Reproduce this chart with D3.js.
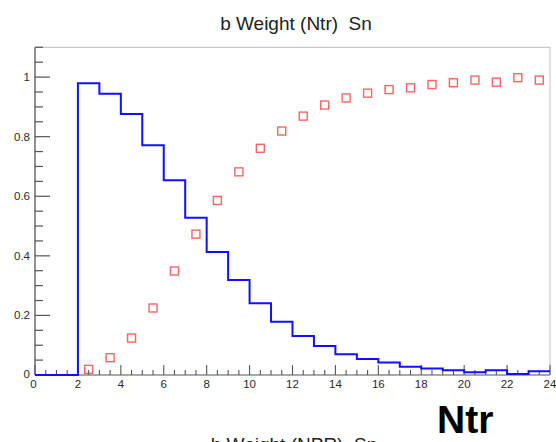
<!DOCTYPE html>
<html>
<head>
<meta charset="utf-8">
<script src="https://cdn.jsdelivr.net/npm/d3@7"></script>
<style>
  html, body { margin: 0; padding: 0; background: #fff; }
  svg { display: block; font-family: "Liberation Sans", Arial, sans-serif; }
  .title { white-space: pre; }
</style>
</head>
<body>
<svg id="chart" width="556" height="442"></svg>
<script>
// Histogram bin edges (unit-wide bins from 0 to 24)
const binEdges = d3.range(0, 25);
// Blue histogram: content of each bin [i, i+1)
const weightNtr = [0, 0, 0.979, 0.944, 0.876, 0.771, 0.654, 0.528, 0.413, 0.319,
                   0.241, 0.179, 0.131, 0.097, 0.070, 0.054, 0.042, 0.028, 0.022,
                   0.016, 0.009, 0.016, 0.003, 0.013];
// Red markers: bin centres and values
const markerX = d3.range(2.5, 24, 1);
const weightMarkers = [0.019, 0.058, 0.124, 0.225, 0.349, 0.473, 0.586, 0.682, 0.761,
                       0.819, 0.869, 0.906, 0.930, 0.946, 0.958, 0.964, 0.975, 0.981,
                       0.990, 0.983, 0.998, 0.990];
// Axis tick labels
const xTickValues = [0, 2, 4, 6, 8, 10, 12, 14, 16, 18, 20, 22, 24];
const yTickValues = [0, 0.2, 0.4, 0.6, 0.8, 1];
const yTickLabels = ["0", "0.2", "0.4", "0.6", "0.8", "1"];

const titleText = "b Weight (Ntr)  Sn";
const lowerTitleText = "b Weight (NPR)  Sn";
const axisName = "Ntr";

const svg = d3.select("#chart");
const frame = { left: 35, right: 550, top: 47.3, bottom: 375 };

const x = d3.scaleLinear().domain([0, 24]).range([frame.left, frame.right]);
const y = d3.scaleLinear().domain([0, 1.1]).range([frame.bottom, frame.top]);

// Frame (light top/right edges)
svg.append("path")
  .attr("d", `M${frame.left},${frame.top}H${frame.right}V${frame.bottom}`)
  .attr("fill", "none").attr("stroke", "#c8c8c8").attr("stroke-width", 1.2);

// Y axis: major ticks every 0.2, minor every 0.05, drawn inward
const yAxis = svg.append("g");
yAxis.append("line").attr("x1", frame.left).attr("x2", frame.left)
  .attr("y1", y(0)).attr("y2", frame.top).attr("stroke", "#555").attr("stroke-width", 1.3);
const yMinor = d3.range(0, 1.1001, 0.05);
yAxis.selectAll("line.minor").data(yMinor).join("line")
  .attr("class", "minor")
  .attr("x1", frame.left)
  .attr("x2", d => (Math.abs(d * 5 - Math.round(d * 5)) < 1e-6) ? frame.left + 15 : frame.left + 8)
  .attr("y1", d => y(d)).attr("y2", d => y(d))
  .attr("stroke", "#555").attr("stroke-width", 1.2);
yAxis.selectAll("text").data(yTickValues).join("text")
  .attr("x", frame.left - 5).attr("y", d => y(d))
  .attr("dy", "0.35em").attr("text-anchor", "end")
  .attr("font-size", 11.5).attr("fill", "#2a2a2a")
  .attr("transform", d => d === 0 ? "translate(0,-1)" : null)
  .text((d, i) => yTickLabels[i]);

// X axis: major ticks every 2, minor every 0.5, drawn upward
const xAxis = svg.append("g");
xAxis.append("line").attr("x1", frame.left).attr("x2", frame.right)
  .attr("y1", frame.bottom).attr("y2", frame.bottom).attr("stroke", "#555").attr("stroke-width", 1.2);
const xMinor = d3.range(0, 24.001, 0.5);
xAxis.selectAll("line.tick").data(xMinor).join("line")
  .attr("class", "tick")
  .attr("x1", d => x(d)).attr("x2", d => x(d))
  .attr("y1", frame.bottom).attr("y2", d => (d % 2 === 0) ? frame.bottom - 10 : frame.bottom - 5)
  .attr("stroke", "#555").attr("stroke-width", 1.1);
xAxis.selectAll("text").data(xTickValues).join("text")
  .attr("x", d => x(d) - (d === 0 ? 1.5 : 0)).attr("y", frame.bottom + 12.5)
  .attr("text-anchor", "middle")
  .attr("font-size", 11.5).attr("fill", "#2a2a2a")
  .text(d => d);

// Blue histogram outline
const histPts = binEdges.slice(0, -1).map((e, i) => [e, weightNtr[i]]);
histPts.push([24, weightNtr[weightNtr.length - 1]]);
const step = d3.line().x(d => x(d[0])).y(d => y(d[1])).curve(d3.curveStepAfter);
svg.append("path")
  .attr("d", step(histPts))
  .attr("fill", "none").attr("stroke", "#1010ff").attr("stroke-width", 2);

// Red open-square markers
const ms = 8;
svg.append("g").selectAll("rect").data(markerX).join("rect")
  .attr("x", (d) => x(d) - ms / 2)
  .attr("y", (d, i) => y(weightMarkers[i]) - ms / 2)
  .attr("width", ms).attr("height", ms)
  .attr("fill", "none").attr("stroke", "#ff3b3b").attr("stroke-opacity", 0.8)
  .attr("stroke-width", 1.4);

// Titles
svg.append("text").attr("class", "title").attr("x", 296).attr("y", 30)
  .attr("text-anchor", "middle").attr("font-size", 19).attr("fill", "#222")
  .text(titleText);
svg.append("text").attr("class", "title").attr("x", 294).attr("y", 451)
  .attr("text-anchor", "middle").attr("font-size", 19).attr("fill", "#222")
  .text(lowerTitleText);
svg.append("text").attr("x", 437).attr("y", 433)
  .attr("font-size", 39).attr("font-weight", "bold").attr("fill", "#000")
  .text(axisName);
</script>
</body>
</html>
